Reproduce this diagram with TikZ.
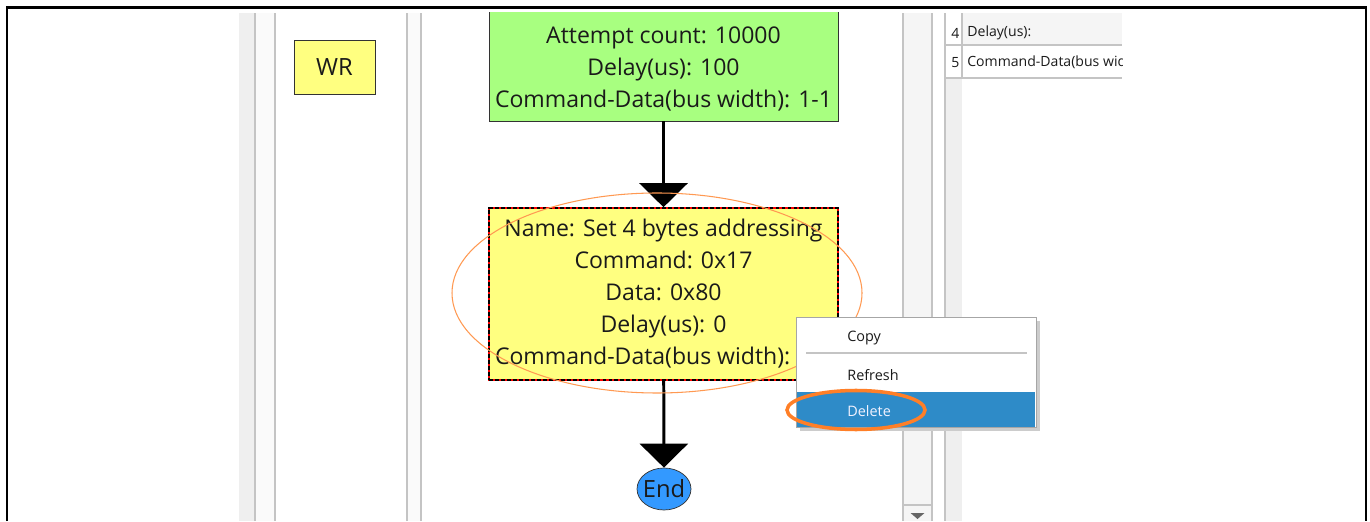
\documentclass[tikz,border=0pt]{standalone}
\usepackage{fontspec}
\setmainfont{Open Sans}
\usetikzlibrary{arrows.meta,shapes.geometric}

\definecolor{stepgreen}{HTML}{A8FF80}
\definecolor{stepyellow}{HTML}{FFFF80}
\definecolor{endblue}{HTML}{3399FF}
\definecolor{menublue}{HTML}{2E8BC8}
\definecolor{markorange}{HTML}{FF7F27}
\definecolor{paneline}{HTML}{C4C4C4}
\definecolor{panegrey}{HTML}{EFEFEF}
\definecolor{inktext}{HTML}{1A1A1A}

\tikzset{
	flowbox/.style={draw=black!80, fill=#1, align=center, text=inktext, inner sep=0pt,
		minimum width=6.98cm, font=\fontsize{13.1}{18.2}\selectfont},
	flowlink/.style={line width=1.7pt, -{Triangle[width=0.96cm,length=0.48cm]}},
	menuitem/.style={anchor=west, inner sep=0pt, text=inktext, font=\fontsize{8.2}{10}\selectfont},
	cell/.style={anchor=west, inner sep=0pt, text=inktext, font=\fontsize{8}{9}\selectfont},
	sep/.style={draw=paneline, line width=0.6pt}
}

\begin{document}
\begin{tikzpicture}
	\useasboundingbox (0, 0) rectangle (27.4, 10.42);
	% outer frame, open at the bottom
	\draw[line width=1.4pt] (0.14, 0) -- (0.14, 10.27) -- (27.32, 10.27) -- (27.32, 0);

	\begin{scope}
		\clip (4.78, 0) rectangle (22.44, 10.16);
		% pane strips and dividers:
		\fill[panegrey] (4.78, 0) rectangle (5.10, 10.16);
		\fill[black!2] (5.10, 0) rectangle (5.50, 10.16);
		\fill[black!2] (8.14, 0) rectangle (8.42, 10.16);
		\fill[black!4] (18.06, 0) rectangle (18.64, 10.16);
		\fill[panegrey] (18.90, 0) rectangle (19.24, 8.86);
		\fill[black!4] (19.24, 9.52) rectangle (22.44, 10.16);
		\draw[sep] (5.10, 0) -- (5.10, 10.16);
		\draw[sep] (5.50, 0) -- (5.50, 10.16);
		\draw[sep] (8.14, 0) -- (8.14, 10.16);
		\draw[sep] (8.42, 0) -- (8.42, 10.16);
		\draw[sep] (18.06, 0) -- (18.06, 10.16);
		\draw[sep] (18.64, 0) -- (18.64, 10.16);
		\draw[sep] (18.90, 0) -- (18.90, 10.16);
		\draw[sep] (19.24, 8.86) -- (19.24, 10.16);
		\draw[sep] (18.90, 9.52) -- (22.44, 9.52);
		\draw[sep] (18.90, 8.86) -- (22.44, 8.86);
		\draw[sep] (18.06, 0.32) -- (18.64, 0.32);
		\fill[black!60] (18.21, 0.16) -- (18.49, 0.16) -- (18.35, 0.04) -- cycle;

		% property table rows:
		\node[cell] (n4) at (19.02, 9.76){4};
		\node[cell] (p4) at (19.34, 9.76){Delay(us):};
		\node[cell] (n5) at (19.02, 9.17){5};
		\node[cell] (p5) at (19.34, 9.17){Command-Data(bus width):};

		% flow nodes:
		\node[flowbox=stepyellow, minimum width=1.62cm, minimum height=1.08cm, font=\fontsize{13.5}{14}\selectfont] (wr) at (6.69, 9.08){WR};
		\node[flowbox=stepgreen, minimum height=2.82cm] (poll) at (13.27, 9.41){\strut\\Attempt count: 10000\\Delay(us): 100\\Command-Data(bus width): 1-1};
		\node[flowbox=stepyellow, draw=red, line width=0.9pt, minimum height=3.44cm,
			postaction={draw=black, dashed, dash pattern=on 2.2pt off 1.2pt}] (addr) at (13.27, 4.54){Name: Set 4 bytes addressing\\Command: 0x17\\Data: 0x80\\Delay(us): 0\\Command-Data(bus width): 1-1};
		\node[flowbox=endblue, ellipse, inner sep=-1.5pt, minimum width=1.08cm, minimum height=0.84cm, font=\fontsize{13.5}{16}\selectfont] (stop) at (13.28, 0.64){End};
		\draw[flowlink] (poll) -- (addr);
		\draw[flowlink] (addr) -- (stop);
		\draw[draw=markorange!80, line width=0.6pt] (13.14, 4.56) ellipse [x radius=4.10cm, y radius=2.0cm];

		% context menu:
		\fill[black!20] (16.00, 1.80) rectangle (20.80, 4.00);
		\node[draw=black!35, fill=white, minimum width=4.8cm, minimum height=2.2cm, inner sep=0pt] (menu) at (18.32, 2.98){};
		\node[fill=menublue, minimum width=4.76cm, minimum height=0.70cm, inner sep=0pt] (hit) at (18.32, 2.23){};
		\node[menuitem] (copy) at (16.94, 3.66){Copy};
		\node[menuitem] (refresh) at (16.94, 2.92){Refresh};
		\node[menuitem, text=blue!5] (delete) at (16.94, 2.20){Delete};
		\draw[sep] (16.12, 3.36) -- (20.54, 3.36);
		\draw[draw=markorange, line width=2pt] (17.12, 2.22) ellipse [x radius=1.38cm, y radius=0.39cm];
	\end{scope}
\end{tikzpicture}
\end{document}
